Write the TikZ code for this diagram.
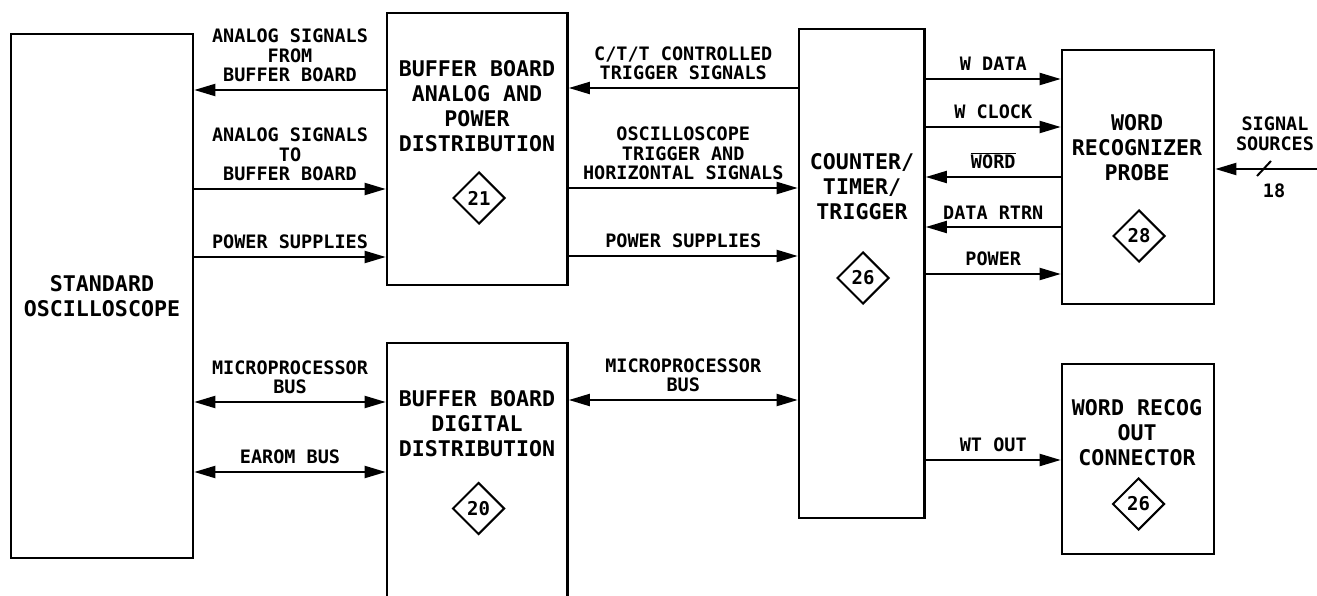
\documentclass[tikz,border=0pt]{standalone}
\usepackage{fontspec}
\setmonofont{DejaVu Sans Mono}
\usetikzlibrary{positioning, arrows.meta, shapes.geometric}

\begin{document}
\begin{tikzpicture}[
  x=1pt, y=-1pt,
  block/.style = {draw, line width=2.6pt, inner sep=0pt},
  txt/.style   = {font=\ttfamily\bfseries\fontsize{21.6}{25}\selectfont, align=center, inner sep=0pt},
  sig/.style   = {font=\ttfamily\bfseries\fontsize{18.5}{19.5}\selectfont, align=center, inner sep=0pt},
  ref/.style   = {diamond, draw, line width=2pt, minimum width=52pt, minimum height=52pt,
                  inner sep=0pt, font=\ttfamily\bfseries\fontsize{19}{19}\selectfont},
  wire/.style  = {line width=2pt},
  >={Triangle[length=21pt, width=12pt]}
]
\path[use as bounding box, clip] (0,0) rectangle (1317,596);
% Boxes
\node[block, minimum width=182pt,   minimum height=524pt] (osc)  at (102,296)      {};
\node[block, minimum width=180.5pt, minimum height=272pt] (abuf) at (477.25,149)   {};
\node[block, minimum width=180.5pt, minimum height=297pt] (dbuf) at (477.25,491.5) {};
\node[block, minimum width=125.5pt, minimum height=489pt] (ctt)  at (861.75,273.5) {};
\node[block, minimum width=152pt,   minimum height=254pt] (wrp)  at (1138,177)     {};
\node[block, minimum width=152pt,   minimum height=190pt] (wro)  at (1138,459)     {};
% Box texts
\node[txt] (osct)  at (102,296)  {STANDARD\\OSCILLOSCOPE};
\node[txt] (abuft) at (477,106)  {BUFFER BOARD\\ANALOG AND\\POWER\\DISTRIBUTION};
\node[txt] (dbuft) at (477,424)  {BUFFER BOARD\\DIGITAL\\DISTRIBUTION};
\node[txt] (cttt)  at (862,187)  {COUNTER/\\TIMER/\\TRIGGER};
\node[txt] (wrpt)  at (1137,148) {WORD\\RECOGNIZER\\PROBE};
\node[txt] (wrot)  at (1137,433) {WORD RECOG\\OUT\\CONNECTOR};
% Diamonds
\node[ref] (abufd) at (479,198)    {21};
\node[ref] (dbufd) at (478.5,508.5) {20};
\node[ref] (cttd)  at (863,278)    {26};
\node[ref] (wrpd)  at (1139,236)   {28};
\node[ref] (wrod)  at (1138.5,504) {26};
% Oscilloscope <-> buffer boards
\draw[wire,->] (abuf.west |- 0,90) -- node[sig, above=7pt]
  {ANALOG SIGNALS\\FROM\\BUFFER BOARD} (osc.east |- 0,90);
\draw[wire,->] (osc.east |- 0,189) -- node[sig, above=7pt]
  {ANALOG SIGNALS\\TO\\BUFFER BOARD} (abuf.west |- 0,189);
\draw[wire,->] (osc.east |- 0,257) -- node[sig, above=7pt] {POWER SUPPLIES} (abuf.west |- 0,257);
\draw[wire,<->] (osc.east |- 0,402) -- node[sig, above=7pt]
  {MICROPROCESSOR\\BUS} (dbuf.west |- 0,402);
\draw[wire,<->] (osc.east |- 0,472) -- node[sig, above=7pt] {EAROM BUS} (dbuf.west |- 0,472);
% Buffer boards <-> counter
\draw[wire,->] (ctt.west |- 0,88) -- node[sig, above=7pt]
  {C/T/T CONTROLLED\\TRIGGER SIGNALS} (abuf.east |- 0,88);
\draw[wire,->] (abuf.east |- 0,188) -- node[sig, above=7pt]
  {OSCILLOSCOPE\\TRIGGER AND\\HORIZONTAL SIGNALS} (ctt.west |- 0,188);
\draw[wire,->] (abuf.east |- 0,256) -- node[sig, above=7pt] {POWER SUPPLIES} (ctt.west |- 0,256);
\draw[wire,<->] (dbuf.east |- 0,400) -- node[sig, above=7pt]
  {MICROPROCESSOR\\BUS} (ctt.west |- 0,400);
% Counter <-> word recognizer
\draw[wire,->] (ctt.east |- 0,79)  -- node[sig, above=7pt] {W DATA}  (wrp.west |- 0,79);
\draw[wire,->] (ctt.east |- 0,127) -- node[sig, above=7pt] {W CLOCK} (wrp.west |- 0,127);
\draw[wire,->] (wrp.west |- 0,177) -- node[sig, above=7pt] {$\overline{\hbox{WORD}}$} (ctt.east |- 0,177);
\draw[wire,->] (wrp.west |- 0,227) -- node[sig, above=7pt] {DATA RTRN} (ctt.east |- 0,227);
\draw[wire,->] (ctt.east |- 0,274) -- node[sig, above=7pt] {POWER}  (wrp.west |- 0,274);
\draw[wire,->] (ctt.east |- 0,460) -- node[sig, above=7pt] {WT OUT} (wro.west |- 0,460);
% Signal sources
\coordinate (src) at (1317,169);
\draw[wire,->] (src) -- (wrp.east |- src);
\draw[wire] (1257,176) -- (1271,161);
\node[sig] (srct) at (1275,134) {SIGNAL\\SOURCES};
\node[sig] (srcn) at (1274,191) {18};
\end{tikzpicture}
\end{document}
